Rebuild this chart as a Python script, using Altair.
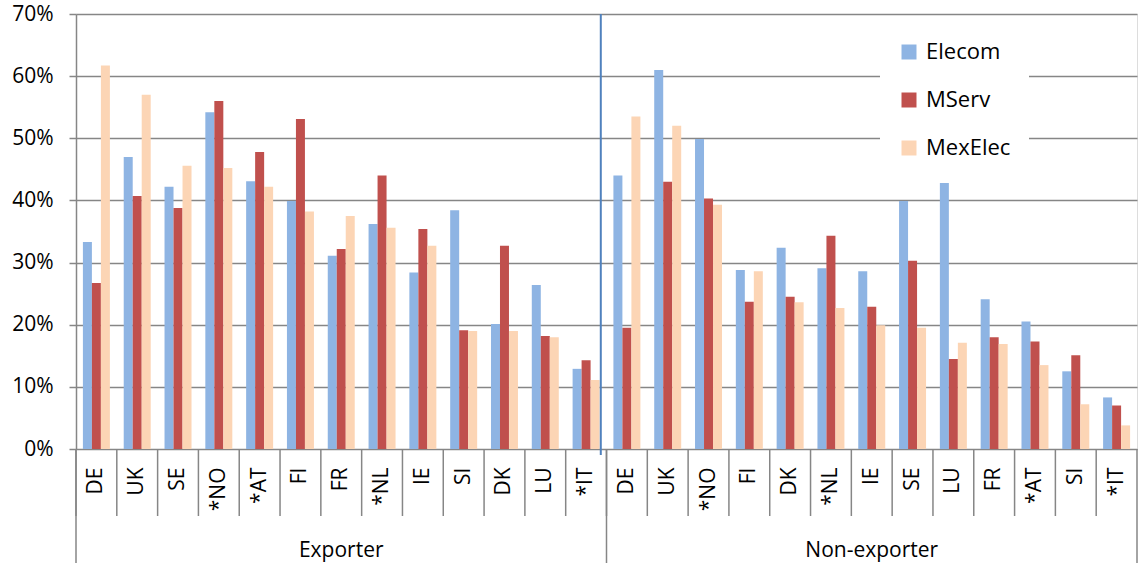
import altair as alt
import pandas as pd

groups = ["Exporter", "Non-exporter"]
exp_countries = ["DE", "UK", "SE", "*NO", "*AT", "FI", "FR", "*NL", "IE", "SI", "DK", "LU", "*IT"]
non_countries = ["DE", "UK", "*NO", "FI", "DK", "*NL", "IE", "SE", "LU", "FR", "*AT", "SI", "*IT"]
series = ["Elecom", "MServ", "MexElec"]
colors = ["#8EB4E3", "#C0504D", "#FCD5B5"]

exp_elecom = [33.3, 47.0, 42.2, 54.2, 43.1, 39.9, 31.1, 36.2, 28.4, 38.4, 20.1, 26.4, 12.9]
exp_mserv = [26.7, 40.7, 38.8, 56.0, 47.8, 53.1, 32.2, 44.0, 35.4, 19.1, 32.7, 18.2, 14.3]
exp_mexelec = [61.7, 57.0, 45.6, 45.2, 42.2, 38.2, 37.5, 35.6, 32.7, 19.0, 19.0, 18.0, 11.1]

non_elecom = [44.0, 61.0, 49.9, 28.8, 32.4, 29.1, 28.6, 39.9, 42.8, 24.1, 20.5, 12.5, 8.3]
non_mserv = [19.5, 43.0, 40.3, 23.7, 24.5, 34.3, 22.9, 30.3, 14.5, 18.0, 17.3, 15.1, 7.0]
non_mexelec = [53.5, 52.0, 39.3, 28.6, 23.6, 22.7, 19.9, 19.5, 17.1, 16.9, 13.5, 7.2, 3.8]

y_ticks = [0, 10, 20, 30, 40, 50, 60, 70]

FONT = "Open Sans"
W, H = 1061, 435
GRAY = "#868686"

rows = []
keys = []
for grp, countries, vals in [
    ("Exporter", exp_countries, [exp_elecom, exp_mserv, exp_mexelec]),
    ("Non-exporter", non_countries, [non_elecom, non_mserv, non_mexelec]),
]:
    for i, c in enumerate(countries):
        key = f"{grp}|{c}"
        keys.append(key)
        for s, v in zip(series, vals):
            rows.append({"key": key, "grp": grp, "country": c, "series": s, "pct": v[i]})
df = pd.DataFrame(rows)
keys_df = pd.DataFrame({"key": keys})

x_scale = alt.Scale(domain=keys, paddingInner=0, paddingOuter=0)
x_axis = alt.Axis(
    title=None, labelAngle=-90,
    labelExpr="slice(datum.label, indexof(datum.label, '|') + 1)",
    ticks=False, domain=False, grid=False, labelPadding=18,
    labelFontSize=21, labelFont=FONT, labelColor="black")

bars = alt.Chart(df).mark_bar().encode(
    x=alt.X("key:N", scale=x_scale, axis=x_axis),
    xOffset=alt.XOffset("series:N", scale=alt.Scale(domain=series, paddingInner=0, paddingOuter=0.768)),
    y=alt.Y("pct:Q", stack=None, scale=alt.Scale(domain=[0, 70], nice=False), axis=alt.Axis(
        title=None, values=y_ticks, labelExpr="datum.value + '%'",
        grid=True, gridColor=GRAY, gridWidth=1.5, domain=True, domainColor=GRAY, domainWidth=1.5,
        ticks=True, tickColor=GRAY, tickSize=7, tickWidth=1.5, labelPadding=16,
        labelFontSize=21, labelFont=FONT, labelColor="black")),
    color=alt.Color("series:N", scale=alt.Scale(domain=series, range=colors), legend=alt.Legend(
        title=None, orient="none", legendX=804, legendY=9, fillColor="white", padding=18,
        symbolType="square", symbolSize=225, symbolStrokeWidth=0, labelFontSize=22, labelFont=FONT,
        labelColor="black", labelOffset=6, rowPadding=26)),
)

cat_sep = alt.Chart(keys_df).mark_rule(color=GRAY, strokeWidth=1.5).encode(
    x=alt.X("key:N", scale=x_scale, bandPosition=0, axis=x_axis),
    y=alt.value(H),
    y2=alt.value(H + 67),
)

grp_first = pd.DataFrame({"key": ["Exporter|DE", "Non-exporter|DE"]})
grp_sep = alt.Chart(grp_first).mark_rule(color=GRAY, strokeWidth=1.5).encode(
    x=alt.X("key:N", scale=x_scale, bandPosition=0, axis=x_axis),
    y=alt.value(H),
    y2=alt.value(H + 114),
)
grp_last = pd.DataFrame({"key": ["Non-exporter|*IT"]})
end_sep = alt.Chart(grp_last).mark_rule(color=GRAY, strokeWidth=1.5).encode(
    x=alt.X("key:N", scale=x_scale, bandPosition=1, axis=x_axis),
    y=alt.value(H),
    y2=alt.value(H + 114),
)

blue_df = pd.DataFrame({"key": ["Exporter|*IT"]})
blue = alt.Chart(blue_df).mark_rule(color="#4F81BD", strokeWidth=2).encode(
    x=alt.X("key:N", scale=x_scale, bandPosition=0.86, axis=x_axis),
    y=alt.value(0),
    y2=alt.value(H + 6),
)

label_df = pd.DataFrame({"key": ["Exporter|FR", "Non-exporter|IE"], "grp": groups})
grp_labels = alt.Chart(label_df).mark_text(
    font=FONT, fontSize=21, color="black", baseline="middle", align="center"
).encode(
    x=alt.X("key:N", scale=x_scale, bandPosition=0.5, axis=x_axis),
    y=alt.value(H + 102),
    text="grp:N",
)

chart = alt.layer(bars, cat_sep, grp_sep, end_sep, blue, grp_labels).properties(
    width=W, height=H,
    padding={"left": 76, "top": 14, "right": 1, "bottom": 114},
    autosize="none",
).configure_view(stroke=None).configure(background="white")

chart.save("out.html", embed_options={"renderer": "svg", "actions": False})
